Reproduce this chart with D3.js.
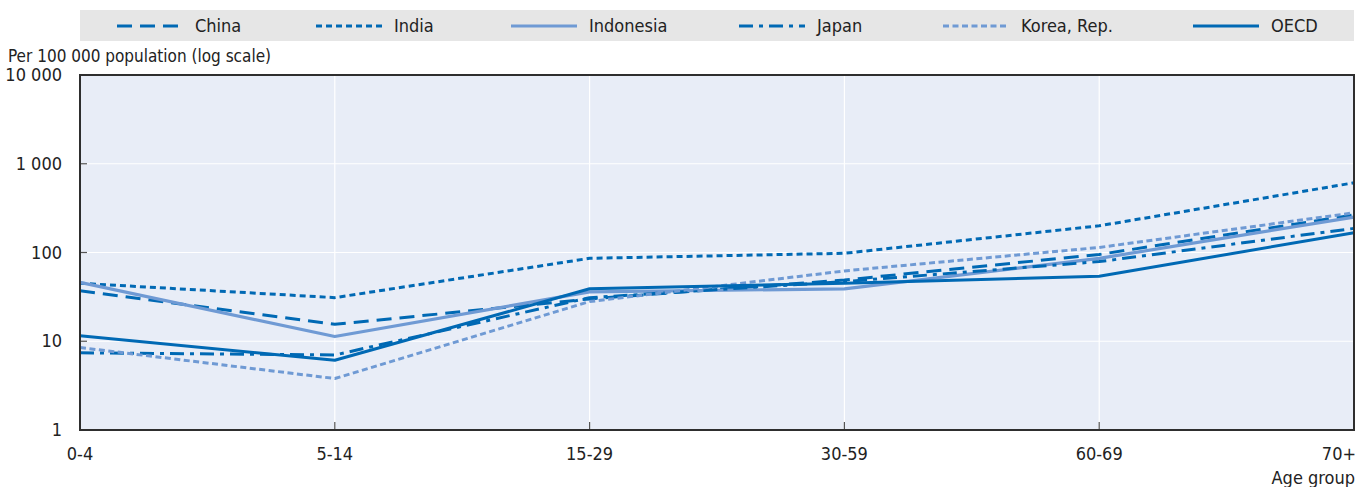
<!DOCTYPE html>
<html>
<head>
<meta charset="utf-8">
<script src="https://cdn.jsdelivr.net/npm/d3@7"></script>
<style>
  html, body { margin: 0; padding: 0; background: #fff; }
  svg { display: block; }
  text { font-family: "Liberation Sans Narrow", "Arial Narrow", "DejaVu Sans Condensed", sans-serif; fill: #222; }
</style>
</head>
<body>
<svg id="chart" width="1357" height="487"></svg>
<script>
const categories = ["0-4", "5-14", "15-29", "30-59", "60-69", "70+"];
const seriesNames = ["China", "India", "Indonesia", "Japan", "Korea, Rep.", "OECD"];
const china     = [37, 15.5, 30, 49, 95, 265];
const india     = [45, 31, 86, 98, 200, 610];
const indonesia = [46, 11.3, 36, 39, 86, 250];
const japan     = [7.4, 7.0, 31, 47, 79, 187];
const korea     = [8.5, 3.8, 28, 62, 114, 280];
const oecd      = [11.5, 6.1, 39, 45, 54, 167];
const yTicks = [1, 10, 100, 1000, 10000];
const yTickLabels = ["1", "10", "100", "1 000", "10 000"];

const dark = "#0069b4";
const light = "#6f9ad4";
const styles = [
  { color: dark,  dash: "15,8",        width: 3 },
  { color: dark,  dash: "6,4",         width: 3 },
  { color: light, dash: null,          width: 3.2 },
  { color: dark,  dash: "14,6,4,6",    width: 3 },
  { color: light, dash: "6,3.5",       width: 3 },
  { color: dark,  dash: null,          width: 3 }
];
const allSeries = [china, india, indonesia, japan, korea, oecd];

const svg = d3.select("#chart");
const m = { left: 80, right: 1354, top: 75, bottom: 430 };

const x = d3.scalePoint().domain(categories).range([m.left, m.right]).padding(0);
const y = d3.scaleLog().domain([1, 10000]).range([m.bottom, m.top]);

// legend band
svg.append("rect").attr("x", 80).attr("y", 10).attr("width", 1274).attr("height", 31).attr("fill", "#e6e6e6");
const legendSym = [117, 316, 511, 739, 943, 1193];
seriesNames.forEach((name, i) => {
  const g = svg.append("g");
  g.append("line")
    .attr("x1", legendSym[i]).attr("x2", legendSym[i] + 66)
    .attr("y1", 26).attr("y2", 26)
    .attr("stroke", styles[i].color).attr("stroke-width", 3)
    .attr("stroke-dasharray", styles[i].dash);
  g.append("text").attr("x", legendSym[i] + 78).attr("y", 32)
    .attr("font-size", 18).text(name);
});

// plot background
svg.append("rect").attr("x", m.left).attr("y", m.top)
  .attr("width", m.right - m.left).attr("height", m.bottom - m.top)
  .attr("fill", "#e8edf7");

// grid
svg.append("g").selectAll("line.h").data(yTicks.slice(1, -1)).join("line")
  .attr("x1", m.left).attr("x2", m.right)
  .attr("y1", d => y(d)).attr("y2", d => y(d))
  .attr("stroke", "#fff").attr("stroke-width", 1.2);
svg.append("g").selectAll("line.v").data(categories.slice(1, -1)).join("line")
  .attr("x1", d => x(d)).attr("x2", d => x(d))
  .attr("y1", m.top).attr("y2", m.bottom)
  .attr("stroke", "#fff").attr("stroke-width", 1.2);

// ticks inside
svg.append("g").selectAll("line").data(yTicks.slice(1, -1)).join("line")
  .attr("x1", m.left).attr("x2", m.left + 7)
  .attr("y1", d => y(d)).attr("y2", d => y(d))
  .attr("stroke", "#555").attr("stroke-width", 1.2);
svg.append("g").selectAll("line").data(categories.slice(1, -1)).join("line")
  .attr("x1", d => x(d)).attr("x2", d => x(d))
  .attr("y1", m.bottom).attr("y2", m.bottom - 8)
  .attr("stroke", "#555").attr("stroke-width", 1.2);

// lines
const line = d3.line().x((d, i) => x(categories[i])).y(d => y(d));
allSeries.forEach((s, i) => {
  svg.append("path").datum(s)
    .attr("d", line)
    .attr("fill", "none")
    .attr("stroke", styles[i].color)
    .attr("stroke-width", styles[i].width)
    .attr("stroke-dasharray", styles[i].dash)
    .attr("stroke-linejoin", "round");
});

// frame
svg.append("rect").attr("x", m.left).attr("y", m.top)
  .attr("width", m.right - m.left).attr("height", m.bottom - m.top)
  .attr("fill", "none").attr("stroke", "#2e2e2e").attr("stroke-width", 2);

// y tick labels
svg.append("g").selectAll("text").data(yTicks).join("text")
  .attr("x", 62).attr("y", d => y(d) + 6)
  .attr("text-anchor", "end").attr("font-size", 18)
  .text((d, i) => yTickLabels[i]);

// x tick labels
svg.append("g").selectAll("text").data(categories).join("text")
  .attr("x", d => x(d)).attr("y", 460)
  .attr("text-anchor", (d, i) => i === categories.length - 1 ? "end" : "middle")
  .attr("dx", (d, i) => i === categories.length - 1 ? 2 : 0)
  .attr("font-size", 18)
  .text(d => d);

// axis titles
svg.append("text").attr("x", 8).attr("y", 62).attr("font-size", 17)
  .text("Per 100 000 population (log scale)");
svg.append("text").attr("x", 1355).attr("y", 484).attr("text-anchor", "end").attr("font-size", 18)
  .text("Age group");
</script>
</body>
</html>
